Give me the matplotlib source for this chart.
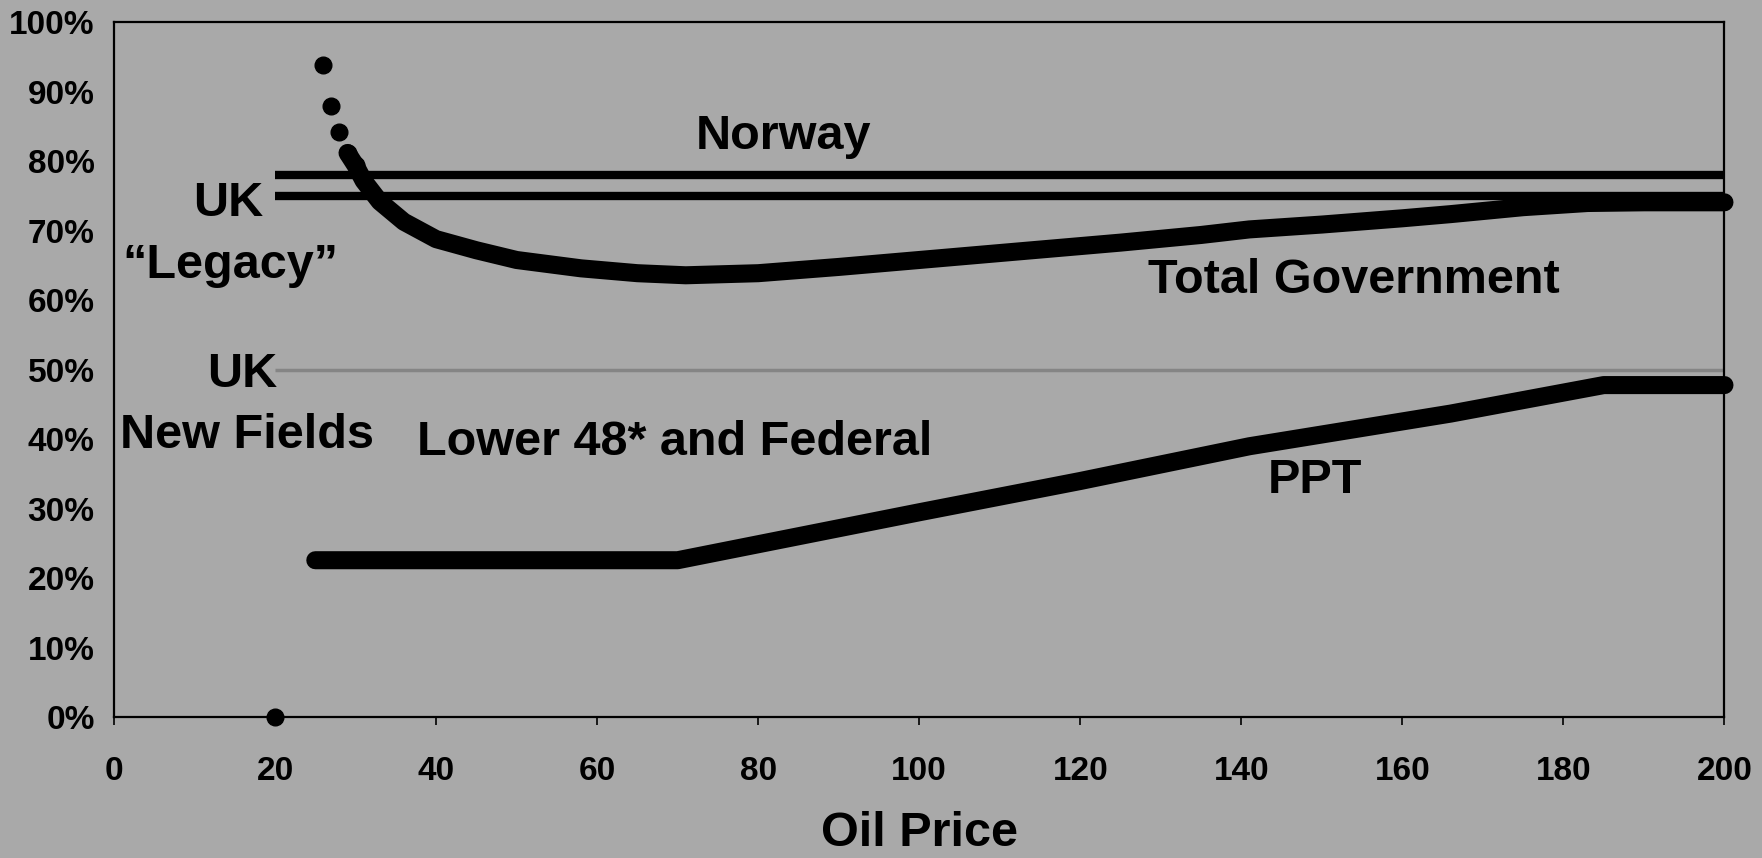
import matplotlib.pyplot as plt
import numpy as np

plt.rcParams['font.family'] = ['Liberation Sans', 'DejaVu Sans']
plt.rcParams['font.weight'] = 'bold'

# Data (government take vs oil price)
norway_price = [20, 200]
norway_take = [78, 78]

uk_legacy_price = [20, 200]
uk_legacy_take = [75, 75]

uk_new_price = [20, 200]
uk_new_take = [50, 50]

total_price = [20, 26, 27, 28, 29, 30, 31, 33, 36, 40, 45, 50, 58, 65, 71,
               80, 90, 100, 114, 125, 135, 141, 150, 160, 166, 175, 183, 190, 200]
total_take = [0, 93.8, 87.9, 84.2, 81.2, 79.4, 77.2, 74.2, 71.3, 68.8, 67.2, 65.8,
              64.6, 63.9, 63.6, 63.9, 64.8, 65.8, 67.2, 68.3, 69.4, 70.2, 70.9,
              71.8, 72.4, 73.4, 74.0, 74.1, 74.1]

ppt_price = [25, 70, 100, 120, 141, 166, 185, 200]
ppt_take = [22.6, 22.6, 29.5, 34.0, 39.0, 43.7, 47.8, 47.8]

x_ticks = [0, 20, 40, 60, 80, 100, 120, 140, 160, 180, 200]
y_ticks = [0, 10, 20, 30, 40, 50, 60, 70, 80, 90, 100]

bg = '#a9a9a9'
fig = plt.figure(figsize=(17.62, 8.58), dpi=100, facecolor=bg)
ax = fig.add_axes([0.0647, 0.164, 0.914, 0.810])
ax.set_facecolor(bg)

ax.plot(uk_new_price, uk_new_take, color='#858585', lw=2.5, solid_capstyle='butt')
ax.plot(norway_price, norway_take, color='black', lw=6, solid_capstyle='butt', clip_on=False)
ax.plot(uk_legacy_price, uk_legacy_take, color='black', lw=6, solid_capstyle='butt', clip_on=False)

tp = np.array(total_price)
tt = np.array(total_take)
curve = tp >= 29
ax.plot(tp[curve], tt[curve], color='black', lw=13, solid_capstyle='round',
        solid_joinstyle='round', clip_on=False)
dots = tp <= 30
ax.plot(tp[dots], tt[dots], 'o', color='black', ms=12, clip_on=False)

ax.plot(ppt_price, ppt_take, color='black', lw=13, solid_capstyle='round',
        solid_joinstyle='round', clip_on=False)

ax.set_xlim(0, 200)
ax.set_ylim(0, 100)
ax.set_xticks(x_ticks)
ax.set_xticklabels([str(v) for v in x_ticks])
ax.set_yticks(y_ticks)
ax.set_yticklabels([f'{v}%' for v in y_ticks])
ax.tick_params(axis='x', length=6, width=1.2, pad=22, labelsize=24, direction='out')
ax.tick_params(axis='y', length=0, pad=14, labelsize=24)
for lbl in ax.get_xticklabels() + ax.get_yticklabels():
    lbl.set_fontweight('bold')
for s in ax.spines.values():
    s.set_linewidth(1.6)
    s.set_color('black')

ax.set_xlabel('Oil Price', fontsize=35, fontweight='bold', labelpad=17)

fs = 35
ax.text(83.2, 83.5, 'Norway', fontsize=fs, fontweight='bold', ha='center', va='center')
ax.text(14.2, 74, 'UK', fontsize=fs, fontweight='bold', ha='center', va='center')
ax.text(14.4, 65, '\u201cLegacy\u201d', fontsize=fs, fontweight='bold', ha='center', va='center')
ax.text(15.9, 49.3, 'UK', fontsize=fs, fontweight='bold', ha='center', va='center')
ax.text(16.5, 40.6, 'New Fields', fontsize=fs, fontweight='bold', ha='center', va='center')
ax.text(69.6, 39.6, 'Lower 48* and Federal', fontsize=fs, fontweight='bold', ha='center', va='center')
ax.text(154, 62.9, 'Total Government', fontsize=fs, fontweight='bold', ha='center', va='center')
ax.text(149.2, 34, 'PPT', fontsize=fs, fontweight='bold', ha='center', va='center')

fig.savefig('out.png', dpi=100, facecolor=bg)
